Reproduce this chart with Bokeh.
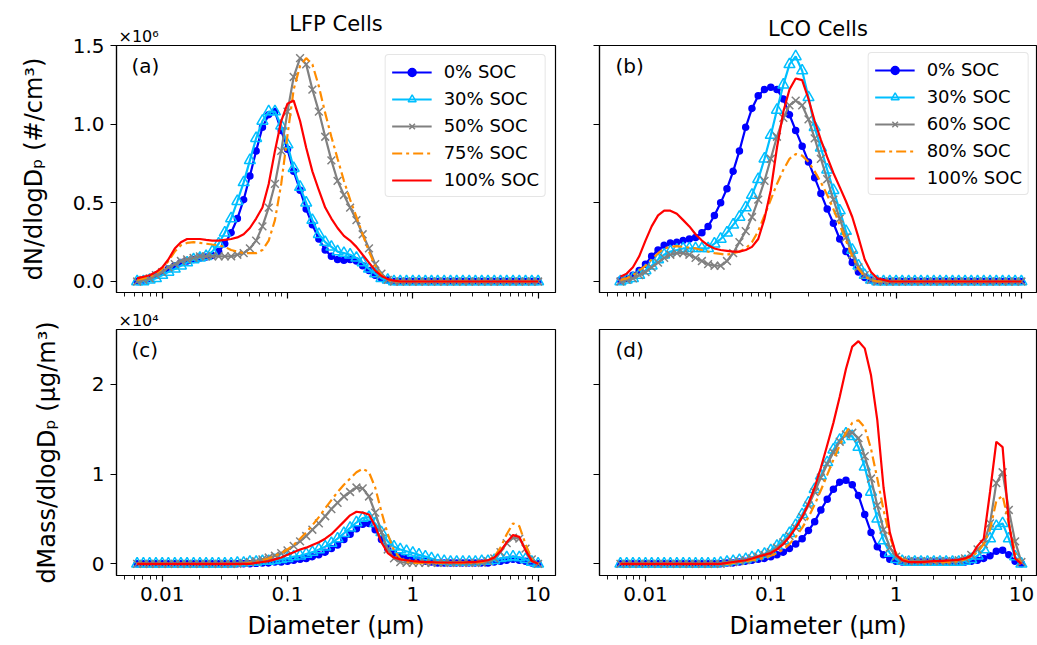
from bokeh.plotting import figure
from bokeh.layouts import gridplot
from bokeh.models import (Range1d, FixedTicker, CustomJSTickFormatter, Label,
                          Legend, LegendItem, Title)
from bokeh.embed import file_html
from bokeh.resources import INLINE

FONT = "DejaVu Sans"

# ---------------- data ----------------
diameter_um = [
    0.00631, 0.00708, 0.00794, 0.00891, 0.0100,
    0.0112, 0.0126, 0.0141, 0.0158, 0.0178,
    0.0200, 0.0224, 0.0251, 0.0282, 0.0316,
    0.0355, 0.0398, 0.0447, 0.0501, 0.0562,
    0.0631, 0.0708, 0.0794, 0.0891, 0.100,
    0.112, 0.126, 0.141, 0.158, 0.178,
    0.200, 0.224, 0.251, 0.282, 0.316,
    0.355, 0.398, 0.447, 0.501, 0.562,
    0.631, 0.708, 0.794, 0.891, 1.00,
    1.12, 1.26, 1.41, 1.58, 1.78,
    2.00, 2.24, 2.51, 2.82, 3.16,
    3.55, 3.98, 4.47, 5.01, 5.62,
    6.31, 7.08, 7.94, 8.91, 10.0,
]

# LFP number distribution (x1e6 #/cm3)
lfp_num_0 = [
    0.0, 0.01, 0.02, 0.04, 0.06,
    0.08, 0.10, 0.12, 0.13, 0.14,
    0.15, 0.155, 0.165, 0.19, 0.24,
    0.31, 0.40, 0.52, 0.67, 0.83,
    0.98, 1.06, 1.08, 0.96, 0.84,
    0.70, 0.58, 0.46, 0.36, 0.27,
    0.20, 0.16, 0.14, 0.135, 0.14,
    0.13, 0.10, 0.07, 0.04, 0.02,
    0.01, 0.0, 0.0, 0.0, 0.0,
    0.0, 0.0, 0.0, 0.0, 0.0,
    0.0, 0.0, 0.0, 0.0, 0.0,
    0.0, 0.0, 0.0, 0.0, 0.0,
    0.0, 0.0, 0.0, 0.0, 0.0,
]
lfp_num_30 = [
    0.0, 0.0, 0.01, 0.02, 0.04,
    0.06, 0.08, 0.10, 0.12, 0.14,
    0.15, 0.16, 0.19, 0.24, 0.31,
    0.40, 0.51, 0.63, 0.77, 0.91,
    1.02, 1.08, 1.08, 0.99, 0.87,
    0.72, 0.60, 0.50, 0.39, 0.30,
    0.25, 0.22, 0.19, 0.18, 0.17,
    0.15, 0.12, 0.08, 0.05, 0.02,
    0.01, 0.0, 0.0, 0.0, 0.0,
    0.0, 0.0, 0.0, 0.0, 0.0,
    0.0, 0.0, 0.0, 0.0, 0.0,
    0.0, 0.0, 0.0, 0.0, 0.0,
    0.0, 0.0, 0.0, 0.0, 0.0,
]
lfp_num_50 = [
    0.0, 0.01, 0.02, 0.04, 0.06,
    0.09, 0.11, 0.13, 0.14, 0.15,
    0.16, 0.16, 0.16, 0.16, 0.16,
    0.16, 0.17, 0.18, 0.21, 0.26,
    0.35, 0.47, 0.62, 0.83, 1.08,
    1.30, 1.42, 1.38, 1.22, 1.08,
    0.92, 0.77, 0.64, 0.55, 0.47,
    0.39, 0.30, 0.21, 0.11, 0.05,
    0.01, 0.0, 0.0, 0.0, 0.0,
    0.0, 0.0, 0.0, 0.0, 0.0,
    0.0, 0.0, 0.0, 0.0, 0.0,
    0.0, 0.0, 0.0, 0.0, 0.0,
    0.0, 0.0, 0.0, 0.0, 0.0,
]
lfp_num_75 = [
    0.01, 0.02, 0.03, 0.05, 0.08,
    0.13, 0.19, 0.23, 0.245, 0.25,
    0.245, 0.24, 0.235, 0.23, 0.22,
    0.20, 0.19, 0.18, 0.18, 0.18,
    0.20, 0.26, 0.39, 0.62, 0.93,
    1.22, 1.37, 1.42, 1.38, 1.24,
    1.07, 0.92, 0.78, 0.64, 0.52,
    0.41, 0.30, 0.19, 0.10, 0.04,
    0.01, 0.0, 0.0, 0.0, 0.0,
    0.0, 0.0, 0.0, 0.0, 0.0,
    0.0, 0.0, 0.0, 0.0, 0.0,
    0.0, 0.0, 0.0, 0.0, 0.0,
    0.0, 0.0, 0.0, 0.0, 0.0,
]
lfp_num_100 = [
    0.02, 0.03, 0.04, 0.06, 0.09,
    0.14, 0.21, 0.25, 0.27, 0.27,
    0.27, 0.265, 0.26, 0.26, 0.265,
    0.27, 0.28, 0.30, 0.34, 0.40,
    0.47, 0.62, 0.83, 1.02, 1.13,
    1.15, 1.02, 0.85, 0.70, 0.58,
    0.47, 0.40, 0.34, 0.29, 0.26,
    0.22, 0.17, 0.12, 0.07, 0.035,
    0.015, 0.005, 0.0, 0.0, 0.0,
    0.0, 0.0, 0.0, 0.0, 0.0,
    0.0, 0.0, 0.0, 0.0, 0.0,
    0.0, 0.0, 0.0, 0.0, 0.0,
    0.0, 0.0, 0.0, 0.0, 0.0,
]

# LCO number distribution (x1e6 #/cm3)
lco_num_0 = [
    0.01, 0.02, 0.04, 0.07, 0.11,
    0.16, 0.20, 0.23, 0.245, 0.25,
    0.26, 0.27, 0.28, 0.31, 0.35,
    0.42, 0.50, 0.59, 0.70, 0.83,
    0.98, 1.10, 1.18, 1.22, 1.235,
    1.22, 1.16, 1.06, 0.96, 0.86,
    0.76, 0.66, 0.56, 0.46, 0.37,
    0.27, 0.19, 0.12, 0.06, 0.025,
    0.01, 0.0, 0.0, 0.0, 0.0,
    0.0, 0.0, 0.0, 0.0, 0.0,
    0.0, 0.0, 0.0, 0.0, 0.0,
    0.0, 0.0, 0.0, 0.0, 0.0,
    0.0, 0.0, 0.0, 0.0, 0.0,
]
lco_num_30 = [
    0.0, 0.01, 0.02, 0.04, 0.07,
    0.10, 0.14, 0.17, 0.19, 0.20,
    0.21, 0.21, 0.21, 0.21, 0.21,
    0.24, 0.27, 0.31, 0.36, 0.41,
    0.47, 0.55, 0.65, 0.78, 0.93,
    1.09, 1.25, 1.38, 1.43, 1.34,
    1.17, 0.98, 0.85, 0.71, 0.58,
    0.45, 0.32, 0.20, 0.10, 0.04,
    0.01, 0.0, 0.0, 0.0, 0.0,
    0.0, 0.0, 0.0, 0.0, 0.0,
    0.0, 0.0, 0.0, 0.0, 0.0,
    0.0, 0.0, 0.0, 0.0, 0.0,
    0.0, 0.0, 0.0, 0.0, 0.0,
]
lco_num_60 = [
    0.0, 0.01, 0.02, 0.04, 0.06,
    0.09, 0.12, 0.15, 0.17, 0.18,
    0.18, 0.17, 0.15, 0.13, 0.11,
    0.10, 0.10, 0.13, 0.18, 0.25,
    0.32, 0.41, 0.52, 0.64, 0.78,
    0.92, 1.04, 1.12, 1.15, 1.12,
    1.03, 0.91, 0.78, 0.65, 0.52,
    0.40, 0.28, 0.17, 0.09, 0.04,
    0.01, 0.0, 0.0, 0.0, 0.0,
    0.0, 0.0, 0.0, 0.0, 0.0,
    0.0, 0.0, 0.0, 0.0, 0.0,
    0.0, 0.0, 0.0, 0.0, 0.0,
    0.0, 0.0, 0.0, 0.0, 0.0,
]
lco_num_80 = [
    0.01, 0.02, 0.04, 0.07, 0.10,
    0.14, 0.18, 0.21, 0.22, 0.225,
    0.22, 0.215, 0.21, 0.20, 0.19,
    0.18, 0.175, 0.17, 0.18, 0.19,
    0.21, 0.25, 0.32, 0.42, 0.52,
    0.62, 0.71, 0.78, 0.81, 0.80,
    0.76, 0.70, 0.63, 0.55, 0.46,
    0.36, 0.26, 0.16, 0.08, 0.03,
    0.01, 0.0, 0.0, 0.0, 0.0,
    0.0, 0.0, 0.0, 0.0, 0.0,
    0.0, 0.0, 0.0, 0.0, 0.0,
    0.0, 0.0, 0.0, 0.0, 0.0,
    0.0, 0.0, 0.0, 0.0, 0.0,
]
lco_num_100 = [
    0.03, 0.05, 0.09, 0.16, 0.26,
    0.35, 0.42, 0.45, 0.45, 0.43,
    0.39, 0.35, 0.30, 0.26, 0.23,
    0.21, 0.20, 0.195, 0.19, 0.19,
    0.20, 0.22, 0.27, 0.40, 0.58,
    0.85, 1.08, 1.22, 1.29, 1.28,
    1.16, 1.02, 0.90, 0.79, 0.69,
    0.60, 0.51, 0.41, 0.28, 0.14,
    0.06, 0.02, 0.01, 0.0, 0.0,
    0.0, 0.0, 0.0, 0.0, 0.0,
    0.0, 0.0, 0.0, 0.0, 0.0,
    0.0, 0.0, 0.0, 0.0, 0.0,
    0.0, 0.0, 0.0, 0.0, 0.0,
]

# LFP mass distribution (x1e4 ug/m3)
lfp_mass_0 = [
    0.0, 0.0, 0.0, 0.0, 0.0,
    0.0, 0.0, 0.0, 0.0, 0.0,
    0.0, 0.0, 0.0, 0.0, 0.0,
    0.0, 0.0, 0.0, 0.0, 0.005,
    0.01, 0.01, 0.02, 0.02, 0.03,
    0.04, 0.05, 0.06, 0.08, 0.10,
    0.13, 0.17, 0.21, 0.27, 0.33,
    0.39, 0.44, 0.45, 0.38, 0.27,
    0.17, 0.11, 0.08, 0.06, 0.05,
    0.04, 0.03, 0.02, 0.01, 0.01,
    0.01, 0.01, 0.01, 0.01, 0.01,
    0.01, 0.01, 0.02, 0.03, 0.04,
    0.05, 0.04, 0.03, 0.01, 0.0,
]
lfp_mass_30 = [
    0.0, 0.0, 0.0, 0.0, 0.0,
    0.0, 0.0, 0.0, 0.0, 0.0,
    0.0, 0.0, 0.0, 0.0, 0.0,
    0.0, 0.01, 0.01, 0.02, 0.02,
    0.03, 0.03, 0.04, 0.05, 0.06,
    0.08, 0.09, 0.11, 0.13, 0.16,
    0.19, 0.23, 0.28, 0.34, 0.40,
    0.46, 0.51, 0.52, 0.45, 0.35,
    0.25, 0.19, 0.16, 0.14, 0.12,
    0.10, 0.08, 0.06, 0.04, 0.03,
    0.02, 0.02, 0.02, 0.02, 0.02,
    0.03, 0.03, 0.04, 0.06, 0.07,
    0.08, 0.07, 0.05, 0.02, 0.0,
]
lfp_mass_50 = [
    0.0, 0.0, 0.0, 0.0, 0.0,
    0.0, 0.0, 0.0, 0.0, 0.0,
    0.0, 0.0, 0.0, 0.0, 0.0,
    0.0, 0.0, 0.01, 0.02, 0.03,
    0.05, 0.07, 0.09, 0.12, 0.15,
    0.20, 0.25, 0.31, 0.38, 0.45,
    0.53, 0.61, 0.68, 0.75, 0.80,
    0.85, 0.84, 0.75, 0.57, 0.35,
    0.16, 0.06, 0.02, 0.01, 0.01,
    0.01, 0.01, 0.01, 0.01, 0.01,
    0.01, 0.01, 0.01, 0.01, 0.01,
    0.01, 0.03, 0.06, 0.13, 0.23,
    0.29, 0.28, 0.17, 0.05, 0.0,
]
lfp_mass_75 = [
    0.0, 0.0, 0.0, 0.0, 0.0,
    0.0, 0.0, 0.0, 0.0, 0.0,
    0.0, 0.0, 0.0, 0.0, 0.0,
    0.0, 0.0, 0.0, 0.01, 0.02,
    0.04, 0.06, 0.09, 0.12, 0.16,
    0.21, 0.28, 0.35, 0.43, 0.52,
    0.62, 0.71, 0.80, 0.88, 0.95,
    1.02, 1.06, 1.02, 0.85, 0.58,
    0.33, 0.15, 0.06, 0.02, 0.01,
    0.01, 0.01, 0.01, 0.01, 0.01,
    0.01, 0.01, 0.01, 0.01, 0.01,
    0.02, 0.04, 0.08, 0.18, 0.33,
    0.45, 0.42, 0.22, 0.05, 0.0,
]
lfp_mass_100 = [
    0.0, 0.0, 0.0, 0.0, 0.0,
    0.0, 0.0, 0.0, 0.0, 0.0,
    0.0, 0.0, 0.0, 0.0, 0.0,
    0.0, 0.0, 0.0, 0.0, 0.01,
    0.02, 0.03, 0.05, 0.07, 0.10,
    0.13, 0.16, 0.18, 0.21, 0.24,
    0.28, 0.33, 0.40, 0.47, 0.54,
    0.58, 0.57, 0.55, 0.42, 0.24,
    0.12, 0.07, 0.05, 0.04, 0.03,
    0.025, 0.02, 0.02, 0.015, 0.015,
    0.015, 0.015, 0.015, 0.02, 0.02,
    0.03, 0.04, 0.07, 0.14, 0.24,
    0.32, 0.30, 0.15, 0.03, 0.0,
]

# LCO mass distribution (x1e4 ug/m3)
lco_mass_0 = [
    0.0, 0.0, 0.0, 0.0, 0.0,
    0.0, 0.0, 0.0, 0.0, 0.0,
    0.0, 0.0, 0.0, 0.0, 0.0,
    0.0, 0.0, 0.01, 0.01, 0.02,
    0.03, 0.04, 0.05, 0.06, 0.08,
    0.10, 0.13, 0.17, 0.22, 0.28,
    0.37, 0.47, 0.60, 0.72, 0.83,
    0.91, 0.93, 0.88, 0.76, 0.55,
    0.35, 0.19, 0.10, 0.05, 0.03,
    0.02, 0.02, 0.02, 0.02, 0.02,
    0.02, 0.02, 0.02, 0.02, 0.02,
    0.02, 0.03, 0.04, 0.06, 0.09,
    0.14, 0.15, 0.10, 0.03, 0.0,
]
lco_mass_30 = [
    0.0, 0.0, 0.0, 0.0, 0.0,
    0.0, 0.0, 0.0, 0.0, 0.0,
    0.0, 0.0, 0.0, 0.0, 0.0,
    0.0, 0.01, 0.02, 0.03, 0.04,
    0.05, 0.07, 0.09, 0.11, 0.15,
    0.20, 0.26, 0.34, 0.43, 0.55,
    0.68, 0.83, 0.98, 1.13, 1.27,
    1.38, 1.45, 1.42, 1.30, 1.08,
    0.80, 0.50, 0.26, 0.12, 0.05,
    0.03, 0.02, 0.02, 0.02, 0.02,
    0.02, 0.02, 0.02, 0.02, 0.02,
    0.03, 0.05, 0.09, 0.16, 0.28,
    0.42, 0.45, 0.28, 0.08, 0.0,
]
lco_mass_60 = [
    0.0, 0.0, 0.0, 0.0, 0.0,
    0.0, 0.0, 0.0, 0.0, 0.0,
    0.0, 0.0, 0.0, 0.0, 0.0,
    0.0, 0.0, 0.01, 0.02, 0.03,
    0.04, 0.06, 0.08, 0.10, 0.13,
    0.18, 0.24, 0.31, 0.40, 0.52,
    0.65, 0.80, 0.96, 1.11, 1.24,
    1.36, 1.44, 1.46, 1.40, 1.20,
    0.95, 0.65, 0.38, 0.18, 0.08,
    0.04, 0.03, 0.03, 0.03, 0.03,
    0.03, 0.03, 0.03, 0.03, 0.04,
    0.06, 0.10, 0.16, 0.22, 0.45,
    0.90, 1.02, 0.60, 0.25, 0.02,
]
lco_mass_80 = [
    0.0, 0.0, 0.0, 0.0, 0.0,
    0.0, 0.0, 0.0, 0.0, 0.0,
    0.0, 0.0, 0.0, 0.0, 0.0,
    0.0, 0.0, 0.0, 0.01, 0.02,
    0.03, 0.04, 0.05, 0.07, 0.09,
    0.12, 0.16, 0.22, 0.30, 0.40,
    0.52, 0.66, 0.82, 0.99, 1.16,
    1.32, 1.46, 1.57, 1.60, 1.52,
    1.28, 0.95, 0.60, 0.30, 0.12,
    0.05, 0.03, 0.02, 0.02, 0.02,
    0.02, 0.02, 0.02, 0.02, 0.03,
    0.05, 0.08, 0.13, 0.22, 0.38,
    0.70, 0.76, 0.45, 0.12, 0.0,
]
lco_mass_100 = [
    0.0, 0.0, 0.0, 0.0, 0.0,
    0.0, 0.0, 0.0, 0.0, 0.0,
    0.0, 0.0, 0.0, 0.0, 0.0,
    0.0, 0.0, 0.01, 0.02, 0.03,
    0.04, 0.06, 0.08, 0.10, 0.12,
    0.16, 0.22, 0.30, 0.40, 0.52,
    0.67, 0.85, 1.07, 1.32, 1.57,
    1.86, 2.17, 2.42, 2.48, 2.40,
    2.10, 1.60, 0.85, 0.35, 0.10,
    0.04, 0.02, 0.02, 0.02, 0.025,
    0.03, 0.03, 0.035, 0.04, 0.045,
    0.06, 0.09, 0.20, 0.28, 0.80,
    1.36, 1.30, 0.45, 0.06, 0.0,
]

lfp_labels = ["0% SOC", "30% SOC", "50% SOC", "75% SOC", "100% SOC"]
lco_labels = ["0% SOC", "30% SOC", "60% SOC", "80% SOC", "100% SOC"]
panel_titles = ["LFP Cells", "LCO Cells"]
panel_tags = ["(a)", "(b)", "(c)", "(d)"]
xtick_values = [0.01, 0.1, 1, 10]
num_yticks = [0.0, 0.5, 1.0, 1.5]
mass_yticks = [0, 1, 2]

# ---------------- styles ----------------
STYLES = [
    dict(color="#0000ff", marker="circle", size=6, fill=True, dash="solid"),
    dict(color="#00bfff", marker="triangle", size=11, fill=False, dash="solid"),
    dict(color="#808080", marker="x", size=11, fill=False, dash="solid"),
    dict(color="#ff8c00", marker=None, size=0, fill=False, dash="10 4 3 4"),
    dict(color="#ff0000", marker=None, size=0, fill=False, dash="solid"),
]

LEFT_FW, RIGHT_FW = 439, 437
TOP_FH, BOT_FH = 247, 246
X_LEFT = (0.004318, 13.77)
X_RIGHT = (0.004296, 13.2)
Y_TOP = (-0.07, 1.5)
Y_BOT = (-0.13, 2.61)

minor = []
for dec in [0.001, 0.01, 0.1, 1]:
    for k in range(2, 10):
        minor.append(round(k * dec, 6))


def make_fig(fw, fh, xr, yr, left, right, top, bottom):
    p = figure(x_axis_type="log", frame_width=fw, frame_height=fh,
               x_range=Range1d(*xr), y_range=Range1d(*yr),
               output_backend="svg", toolbar_location=None,
               min_border_left=left, min_border_right=right,
               min_border_top=top, min_border_bottom=bottom)
    p.grid.visible = False
    p.outline_line_color = "black"
    p.outline_line_width = 1.2
    p.outline_line_alpha = 1.0
    p.background_fill_color = "white"
    p.border_fill_color = "white"
    for ax in (p.xaxis[0], p.yaxis[0]):
        ax.axis_line_color = "black"
        ax.axis_line_width = 1.2
        ax.major_tick_line_color = "black"
        ax.major_tick_line_width = 1.2
        ax.major_tick_out = 6
        ax.major_tick_in = 0
        ax.minor_tick_line_color = "black"
        ax.minor_tick_line_width = 0.9
        ax.minor_tick_out = 4
        ax.minor_tick_in = 0
        ax.major_label_text_font = FONT
        ax.major_label_text_font_size = "20px"
        ax.major_label_text_color = "black"
        ax.axis_label_text_font = FONT
        ax.axis_label_text_font_size = "24px"
        ax.axis_label_text_font_style = "normal"
        ax.axis_label_text_color = "black"
    p.xaxis[0].ticker = FixedTicker(ticks=xtick_values, minor_ticks=minor)
    p.xaxis[0].formatter = CustomJSTickFormatter(
        code="return tick >= 1 ? tick.toFixed(0) : String(tick);")
    p.xaxis[0].major_label_standoff = 5
    p.yaxis[0].minor_tick_line_color = None
    p.yaxis[0].major_label_standoff = 6
    return p


def hide_labels(ax):
    ax.major_label_text_font_size = "0px"
    ax.major_label_text_color = None


def add_series(p, ys, labels):
    items = []
    for y, lab, st in zip(ys, labels, STYLES):
        rs = []
        rs.append(p.line(diameter_um, y, line_color=st["color"], line_width=2.2,
                         line_dash=st["dash"]))
        if st["marker"] is not None:
            rs.append(p.scatter(diameter_um, y, marker=st["marker"], size=st["size"],
                                line_color=st["color"], line_width=1.5,
                                fill_color=st["color"] if st["fill"] else None))
        items.append(LegendItem(label=lab, renderers=rs))
    return items


def add_legend(p, items, margin):
    lg = Legend(items=items, location="top_right")
    lg.label_text_font = FONT
    lg.label_text_font_size = "18px"
    lg.label_text_color = "black"
    lg.glyph_width = 40
    lg.glyph_height = 20
    lg.label_height = 20
    lg.label_standoff = 12
    lg.spacing = 6
    lg.padding = 6
    lg.margin = margin
    lg.border_line_color = "#cccccc"
    lg.border_line_width = 1
    lg.background_fill_alpha = 0.8
    if "border_radius" in Legend.properties():
        lg.border_radius = 4
    p.add_layout(lg)


def add_tag(p, x, y, text):
    p.add_layout(Label(x=x, y=y, x_units="screen", y_units="screen", text=text,
                       text_font=FONT, text_font_size="20px", text_color="black",
                       text_align="left", text_baseline="top"))


def add_title(p, text, size, align, standoff, offset=0):
    p.add_layout(Title(text=text, align=align, text_font=FONT, text_font_size=size,
                       text_font_style="normal", text_color="black",
                       standoff=standoff, offset=offset), "above")


# ---------------- figures ----------------
pa = make_fig(LEFT_FW, TOP_FH, X_LEFT, Y_TOP, 116, 4, 45, 16)
pb = make_fig(RIGHT_FW, TOP_FH, X_RIGHT, Y_TOP, 40, 1, 45, 16)
pc = make_fig(LEFT_FW, BOT_FH, X_LEFT, Y_BOT, 116, 4, 21, 70)
pd = make_fig(RIGHT_FW, BOT_FH, X_RIGHT, Y_BOT, 40, 1, 21, 70)

for p in (pa, pb):
    p.yaxis[0].ticker = FixedTicker(ticks=num_yticks)
    p.yaxis[0].formatter = CustomJSTickFormatter(code="return tick.toFixed(1);")
    hide_labels(p.xaxis[0])
for p in (pc, pd):
    p.yaxis[0].ticker = FixedTicker(ticks=mass_yticks)
    p.yaxis[0].formatter = CustomJSTickFormatter(code="return tick.toFixed(0);")
    p.xaxis[0].axis_label = "Diameter (μm)"
    p.xaxis[0].axis_label_standoff = 8
for p in (pb, pd):
    hide_labels(p.yaxis[0])

pa.yaxis[0].axis_label = "dN/dlogDₚ (#/cm³)"
pa.yaxis[0].axis_label_standoff = 22
pc.yaxis[0].axis_label = "dMass/dlogDₚ (μg/m³)"
pc.yaxis[0].axis_label_standoff = 28

add_legend(pa, add_series(pa, [lfp_num_0, lfp_num_30, lfp_num_50, lfp_num_75, lfp_num_100], lfp_labels), 9)
add_legend(pb, add_series(pb, [lco_num_0, lco_num_30, lco_num_60, lco_num_80, lco_num_100], lco_labels), 7)
add_series(pc, [lfp_mass_0, lfp_mass_30, lfp_mass_50, lfp_mass_75, lfp_mass_100], lfp_labels)
add_series(pd, [lco_mass_0, lco_mass_30, lco_mass_60, lco_mass_80, lco_mass_100], lco_labels)

# offset texts (closest to the frame) and panel titles
add_title(pa, "×10⁶", "16px", "left", 0, offset=2)
add_title(pa, panel_titles[0], "21px", "center", -22)
add_title(pb, panel_titles[1], "21px", "center", 10, offset=2)
add_title(pc, "×10⁴", "16px", "left", 0, offset=2)

add_tag(pa, 15, TOP_FH - 8, panel_tags[0])
add_tag(pb, 16, TOP_FH - 8, panel_tags[1])
add_tag(pc, 15, BOT_FH - 8, panel_tags[2])
add_tag(pd, 16, BOT_FH - 8, panel_tags[3])

grid = gridplot([[pa, pb], [pc, pd]], toolbar_location=None)

open("out.html", "w").write(file_html(grid, INLINE))
